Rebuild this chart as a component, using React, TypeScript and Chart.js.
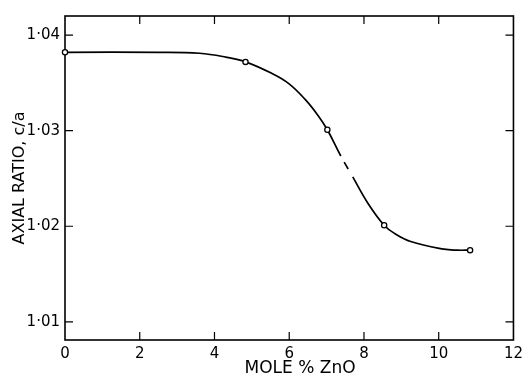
import React, { useEffect, useRef } from 'react';
import { Chart, registerables } from 'chart.js';

Chart.register(...registerables);

// Axis ticks
const xTicks = [0, 2, 4, 6, 8, 10, 12];
const yTicks = [1.01, 1.02, 1.03, 1.04];

// Measured points (open circles)
const pointX = [0, 4.83, 7.02, 8.54, 10.84];
const pointY = [1.0382, 1.0372, 1.0301, 1.0201, 1.0175];

// Hand-drawn curve
const curveX = [0, 2.5, 3.6, 4.3, 4.83, 5.53, 5.98, 6.42, 6.77, 7.02, 7.38, 7.7, 8.1, 8.54, 8.81, 9.25, 10.14, 10.49, 10.84];
const curveY = [1.0382, 1.0382, 1.0381, 1.0377, 1.0372, 1.036, 1.03495, 1.0333, 1.0316, 1.0301, 1.02735, 1.02516, 1.02244, 1.0201, 1.01927, 1.0184, 1.0176, 1.0175, 1.0175];
const brokenFromX = 7.38; // curve segment drawn broken (dash) starting here

const FONT = 'DejaVu Sans';

const frameAndTicks = {
  id: 'frameAndTicks',
  beforeDatasetsDraw(chart: any) {
    const { ctx, chartArea, scales } = chart;
    const { left, right, top, bottom } = chartArea;
    const x = scales.x;
    const y = scales.y;
    ctx.save();
    ctx.strokeStyle = '#000';
    ctx.lineWidth = 1.6;
    ctx.strokeRect(left, top, right - left, bottom - top);
    const len = 8;
    ctx.beginPath();
    xTicks.forEach((v) => {
      const px = x.getPixelForValue(v);
      if (px <= left + 1 || px >= right - 1) return;
      ctx.moveTo(px, bottom);
      ctx.lineTo(px, bottom - len);
      ctx.moveTo(px, top);
      ctx.lineTo(px, top + len);
    });
    yTicks.forEach((v) => {
      const py = y.getPixelForValue(v);
      ctx.moveTo(left, py);
      ctx.lineTo(left + len, py);
      ctx.moveTo(right, py);
      ctx.lineTo(right - len, py);
    });
    ctx.lineWidth = 1.2;
    ctx.stroke();
    ctx.restore();
  },
};

export default function App() {
  const ref = useRef<HTMLCanvasElement | null>(null);

  useEffect(() => {
    if (!ref.current) return;
    const gapIndex = curveX.indexOf(brokenFromX);
    const chart = new Chart(ref.current, {
      type: 'scatter',
      data: {
        datasets: [
          {
            label: 'points',
            data: pointX.map((v, i) => ({ x: v, y: pointY[i] })),
            showLine: false,
            pointRadius: 2.6,
            pointBackgroundColor: '#fff',
            pointBorderColor: '#000',
            pointBorderWidth: 1.3,
            clip: false as any,
          },
          {
            label: 'curve',
            data: curveX.map((v, i) => ({ x: v, y: curveY[i] })),
            showLine: true,
            pointRadius: 0,
            borderColor: '#000',
            borderWidth: 1.7,
            tension: 0.4,
            clip: false as any,
            segment: {
              borderDash: (c: any) => (c.p0DataIndex === gapIndex ? [0, 7, 8, 9] : undefined),
            },
          } as any,
        ],
      },
      options: {
        animation: false,
        responsive: true,
        maintainAspectRatio: false,
        layout: { padding: { top: 16, right: 11, left: 0, bottom: 0 } },
        plugins: {
          legend: { display: false },
          tooltip: { enabled: false },
        },
        scales: {
          x: {
            type: 'linear',
            min: 0,
            max: 12,
            afterBuildTicks: (s: any) => {
              s.ticks = xTicks.map((v) => ({ value: v }));
            },
            afterFit: (s: any) => {
              s.height = 38;
            },
            grid: { display: false, drawTicks: false },
            border: { display: false },
            ticks: {
              color: '#000',
              padding: 5,
              maxRotation: 0,
              autoSkip: false,
              font: { family: FONT, size: 15 },
              callback: (v: any) => String(v),
            },
            title: {
              display: true,
              text: '    MOLE % ZnO',
              color: '#000',
              font: { family: FONT, size: 17 },
              padding: { top: 0, bottom: -1 },
            },
          },
          y: {
            type: 'linear',
            min: 1.0081,
            max: 1.042,
            afterBuildTicks: (s: any) => {
              s.ticks = yTicks.map((v) => ({ value: v }));
            },
            afterFit: (s: any) => {
              s.width = 65;
            },
            grid: { display: false, drawTicks: false },
            border: { display: false },
            ticks: {
              color: '#000',
              padding: 5,
              font: { family: FONT, size: 15 },
              callback: (v: any) => Number(v).toFixed(2).replace('.', '\u00b7'),
            },
            title: {
              display: true,
              text: 'AXIAL RATIO, c/a',
              color: '#000',
              font: { family: FONT, size: 16 },
              padding: { top: 10, bottom: 0 },
            },
          },
        },
      },
      plugins: [frameAndTicks],
    });
    return () => chart.destroy();
  }, []);

  return (
    <div style={{ position: 'fixed', left: 0, top: 0, width: 528, height: 378, background: '#fff' }}>
      <canvas ref={ref} />
    </div>
  );
}
